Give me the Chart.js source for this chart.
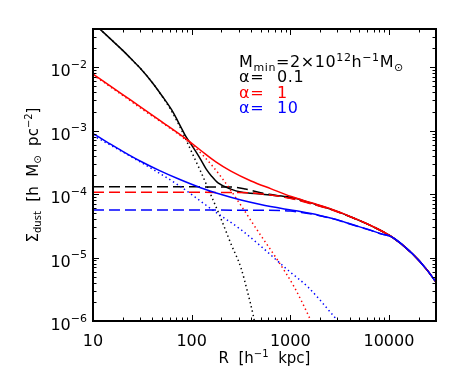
<!DOCTYPE html>
<html lang="en">
<head>
    <meta charset="UTF-8">
    <title>Dust surface density profile</title>
    <script src="https://cdn.jsdelivr.net/npm/chart.js"></script>
    <style>
        body {
            margin: 0;
            background-color: white;
        }
        #wrap {
            width: 463px;
            height: 380px;
        }
    </style>
</head>
<body>
    <div id="wrap">
        <canvas id="profil" width="463" height="380"></canvas>
    </div>

    <script>
        // Radii [h^-1 kpc] and surface densities
        // alpha = 0.1 (black)
        const blackTotR = [10, 12.6, 16, 20, 25, 30, 40, 50, 63, 80, 87, 100, 110, 125, 140, 160, 185, 250, 315, 500, 870, 1020, 1640, 2620, 4190, 6700, 10700, 17200, 24400, 31600];
        const blackTotS = [5.0e-2, 3.6e-2, 2.55e-2, 1.84e-2, 1.3e-2, 9.7e-3, 5.7e-3, 3.55e-3, 2.1e-3, 1.05e-3, 8.2e-4, 5.9e-4, 4.7e-4, 3.4e-4, 2.5e-4, 1.9e-4, 1.5e-4, 1.2e-4, 1.08e-4, 1.0e-4, 9.2e-5, 8.9e-5, 7.2e-5, 5.75e-5, 4.32e-5, 3.13e-5, 2.11e-5, 1.155e-5, 6.34e-6, 3.65e-6];
        const blackOneR = [10, 12.6, 16, 20, 25, 30, 40, 50, 63, 80, 87, 105, 123, 160, 197, 250, 316, 370, 420, 470];
        const blackOneS = [5.0e-2, 3.6e-2, 2.55e-2, 1.84e-2, 1.3e-2, 9.7e-3, 5.7e-3, 3.5e-3, 2.0e-3, 9.8e-4, 7.4e-4, 3.9e-4, 2.3e-4, 9.0e-5, 4.2e-5, 1.65e-5, 6.9e-6, 2.8e-6, 1.25e-6, 5.0e-7];
        const blackTwoR = [10, 100, 250, 350, 500, 700, 1020, 1640, 2620, 4190, 6700, 10700, 17200, 24400, 31600];
        const blackTwoS = [1.3e-4, 1.3e-4, 1.29e-4, 1.2e-4, 1.05e-4, 9.6e-5, 8.6e-5, 7.1e-5, 5.7e-5, 4.3e-5, 3.13e-5, 2.11e-5, 1.155e-5, 6.34e-6, 3.65e-6];

        // alpha = 1 (red)
        const redTotR = [10, 20, 30, 50, 87, 124, 176, 250, 400, 640, 1020, 1640, 2620, 4190, 6700, 10700, 17200, 24400, 31600];
        const redTotS = [7.8e-3, 3.7e-3, 2.4e-3, 1.38e-3, 7.5e-4, 4.87e-4, 3.22e-4, 2.3e-4, 1.61e-4, 1.21e-4, 9.17e-5, 7.29e-5, 5.79e-5, 4.34e-5, 3.14e-5, 2.11e-5, 1.155e-5, 6.34e-6, 3.65e-6];
        const redOneR = [10, 20, 30, 60, 87, 130, 200, 300, 470, 750, 1100, 1520, 1800];
        const redOneS = [7.6e-3, 3.6e-3, 2.3e-3, 1.1e-3, 7.2e-4, 4.1e-4, 1.85e-4, 7.5e-5, 2.6e-5, 8.9e-6, 3.4e-6, 1.24e-6, 7.0e-7];
        const redTwoR = [10, 300, 600, 1020, 1640, 2620, 4190, 6700, 10700, 17200, 24400, 31600];
        const redTwoS = [1.07e-4, 1.06e-4, 9.8e-5, 8.5e-5, 7.0e-5, 5.65e-5, 4.3e-5, 3.13e-5, 2.11e-5, 1.155e-5, 6.34e-6, 3.65e-6];

        // alpha = 10 (blue)
        const blueTotR = [10, 14, 20, 30, 48, 75, 123, 200, 316, 500, 870, 1300, 1940, 2900, 4170, 6300, 8300, 10700, 17200, 24400, 31600];
        const blueTotS = [9.0e-4, 6.55e-4, 4.71e-4, 3.32e-4, 2.32e-4, 1.71e-4, 1.26e-4, 9.83e-5, 8.05e-5, 6.85e-5, 5.83e-5, 5.25e-5, 4.65e-5, 4.0e-5, 3.34e-5, 2.74e-5, 2.37e-5, 2.11e-5, 1.155e-5, 6.34e-6, 3.65e-6];
        const blueOneR = [10, 25, 72, 169, 316, 505, 950, 1520, 2630, 3200];
        const blueOneS = [8.4e-4, 3.8e-4, 1.41e-4, 5.4e-5, 2.75e-5, 1.5e-5, 6.3e-6, 3.4e-6, 1.3e-6, 9.0e-7];
        const blueTwoR = [10, 500, 1000, 1300, 1940, 2900, 4170, 6300, 8300, 10700, 17200, 24400, 31600];
        const blueTwoS = [5.6e-5, 5.58e-5, 5.4e-5, 5.15e-5, 4.6e-5, 3.97e-5, 3.32e-5, 2.73e-5, 2.36e-5, 2.11e-5, 1.155e-5, 6.34e-6, 3.65e-6];

        // Axes
        const xMin = 10, xMax = 30000;
        const yMin = 1e-6, yMax = 4e-2;
        const xTickValues = [10, 100, 1000, 10000];
        const xTickLabels = ['10', '100', '1000', '10000'];
        const yTickValues = [1e-6, 1e-5, 1e-4, 1e-3, 1e-2];
        const yTickExps = ['−6', '−5', '−4', '−3', '−2'];

        // Legend
        const alphaLabels = ['0.1', '1', '10'];
        const alphaColors = ['#000000', '#ff0000', '#0000ff'];

        const FONT = '"DejaVu Sans", sans-serif';

        function pts(rs, ss) {
            return rs.map((r, i) => ({ x: r, y: ss[i] }));
        }

        function line(rs, ss, color, dash, order) {
            return {
                data: pts(rs, ss),
                borderColor: color,
                borderWidth: 1.5,
                borderDash: dash,
                pointRadius: 0,
                fill: false,
                cubicInterpolationMode: 'monotone',
                order: order
            };
        }

        const SOLID = [], DOT = [1.4, 3], DASH = [11, 5];

        // draw text made of runs with font size and vertical shift
        function runsWidth(ctx, runs) {
            let w = 0;
            runs.forEach(r => {
                ctx.font = r.size + 'px ' + FONT;
                w += ctx.measureText(r.t).width;
            });
            return w;
        }
        function drawRuns(ctx, runs, x, y) {
            runs.forEach(r => {
                ctx.font = r.size + 'px ' + FONT;
                ctx.fillText(r.t, x, y + (r.dy || 0));
                x += ctx.measureText(r.t).width;
            });
            return x;
        }

        const idlPlugin = {
            id: 'idl',
            afterDatasetsDraw(chart) {
                const ctx = chart.ctx;
                const a = chart.chartArea;
                const xs = chart.scales.x, ys = chart.scales.y;
                ctx.save();
                ctx.strokeStyle = '#000';
                ctx.fillStyle = '#000';
                ctx.textBaseline = 'alphabetic';
                ctx.textAlign = 'left';

                // ticks inside on all four sides
                ctx.lineWidth = 1;
                ctx.beginPath();
                for (let k = 1; k <= 4; k++) {
                    for (let m = 1; m <= 9; m++) {
                        const v = m * Math.pow(10, k);
                        if (v < xMin || v > xMax) continue;
                        const px = Math.round(xs.getPixelForValue(v)) + 0.5;
                        const len = m === 1 ? 6 : 3.5;
                        ctx.moveTo(px, a.bottom); ctx.lineTo(px, a.bottom - len);
                        ctx.moveTo(px, a.top); ctx.lineTo(px, a.top + len);
                    }
                }
                for (let k = -6; k <= -2; k++) {
                    for (let m = 1; m <= 9; m++) {
                        const v = m * Math.pow(10, k);
                        if (v < yMin || v > yMax) continue;
                        const py = Math.round(ys.getPixelForValue(v)) + 0.5;
                        const len = m === 1 ? 6 : 3.5;
                        ctx.moveTo(a.left, py); ctx.lineTo(a.left + len, py);
                        ctx.moveTo(a.right, py); ctx.lineTo(a.right - len, py);
                    }
                }
                ctx.stroke();

                // frame
                ctx.lineWidth = 2;
                ctx.strokeRect(a.left, a.top, a.right - a.left, a.bottom - a.top);

                // x tick labels
                ctx.font = '16px ' + FONT;
                ctx.textAlign = 'center';
                xTickValues.forEach((v, i) => {
                    ctx.fillText(xTickLabels[i], xs.getPixelForValue(v), 346);
                });
                ctx.textAlign = 'left';

                // y tick labels 10^n
                yTickValues.forEach((v, i) => {
                    const py = ys.getPixelForValue(v);
                    const runs = [{ t: '10', size: 16, dy: 9 }, { t: yTickExps[i], size: 11, dy: 0.5 }];
                    const w = runsWidth(ctx, runs);
                    drawRuns(ctx, runs, a.left - 6 - w, py);
                });

                // x title
                const xt = [
                    { t: 'R  [h', size: 15 },
                    { t: '−1', size: 10, dy: -6 },
                    { t: '  kpc]', size: 15 }
                ];
                const xw = runsWidth(ctx, xt);
                drawRuns(ctx, xt, (a.left + a.right) / 2 - xw / 2, 363);

                // y title, rotated
                const yt = [
                    { t: 'Σ', size: 15 },
                    { t: 'dust', size: 10, dy: 3 },
                    { t: '  [h  M', size: 15 },
                    { t: '⊙', size: 10, dy: 3 },
                    { t: '  pc', size: 15 },
                    { t: '−2', size: 10, dy: -6 },
                    { t: ']', size: 15 }
                ];
                const yw = runsWidth(ctx, yt);
                ctx.save();
                ctx.translate(37.5, (a.top + a.bottom) / 2 + yw / 2);
                ctx.rotate(-Math.PI / 2);
                drawRuns(ctx, yt, 0, 0);
                ctx.restore();

                // legend
                ctx.letterSpacing = '0.6px';
                drawRuns(ctx, [
                    { t: 'M', size: 16 },
                    { t: 'min', size: 11, dy: 4 },
                    { t: '=2×10', size: 16 },
                    { t: '12', size: 11, dy: -6 },
                    { t: 'h', size: 16 },
                    { t: '−1', size: 11, dy: -6 },
                    { t: 'M', size: 16 },
                    { t: '⊙', size: 11, dy: 4 }
                ], 239, 67);
                alphaLabels.forEach((lab, i) => {
                    const by = 82 + i * 15.5;
                    ctx.fillStyle = alphaColors[i];
                    ctx.font = '16px ' + FONT;
                    ctx.fillText('α=', 239, by);
                    ctx.fillText(lab, 277, by);
                });
                ctx.letterSpacing = '0px';

                ctx.restore();
            }
        };

        const ctx = document.getElementById('profil').getContext('2d');
        new Chart(ctx, {
            type: 'line',
            data: {
                datasets: [
                    line(blueTotR, blueTotS, '#0000ff', SOLID, 1),
                    line(blueTwoR, blueTwoS, '#0000ff', DASH, 2),
                    line(blueOneR, blueOneS, '#0000ff', DOT, 3),
                    line(redTotR, redTotS, '#ff0000', SOLID, 4),
                    line(redTwoR, redTwoS, '#ff0000', DASH, 5),
                    line(redOneR, redOneS, '#ff0000', DOT, 6),
                    line(blackTotR, blackTotS, '#000000', SOLID, 7),
                    line(blackTwoR, blackTwoS, '#000000', DASH, 8),
                    line(blackOneR, blackOneS, '#000000', DOT, 9)
                ]
            },
            options: {
                responsive: false,
                animation: false,
                layout: {
                    padding: { left: 93, right: 27, top: 29, bottom: 59 }
                },
                plugins: {
                    legend: { display: false },
                    tooltip: { enabled: false },
                    title: { display: false }
                },
                scales: {
                    x: { type: 'logarithmic', min: xMin, max: xMax, display: false },
                    y: { type: 'logarithmic', min: yMin, max: yMax, display: false }
                }
            },
            plugins: [idlPlugin]
        });
    </script>
</body>
</html>
